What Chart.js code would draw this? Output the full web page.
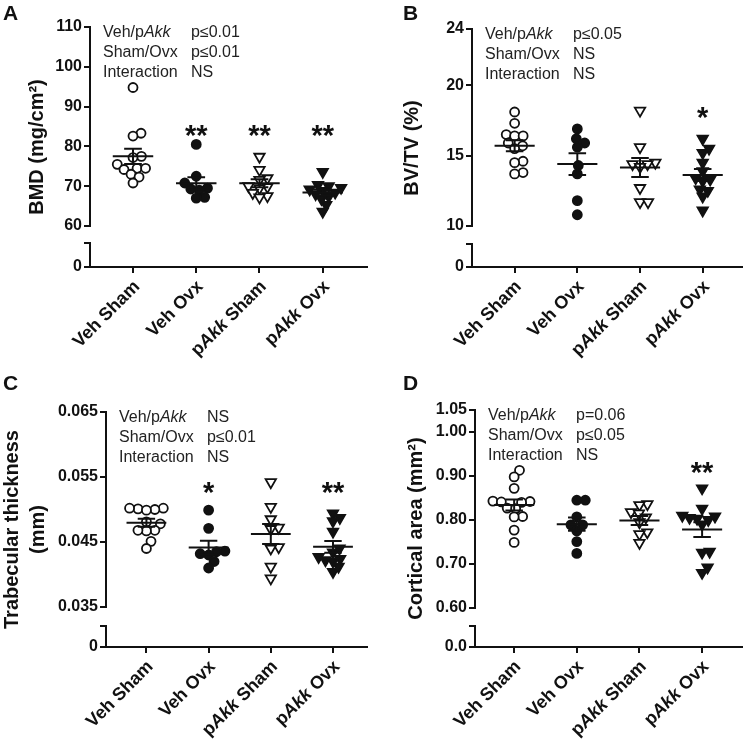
<!DOCTYPE html>
<html>
<head>
<meta charset="utf-8">
<script src="https://cdn.jsdelivr.net/npm/chart.js@4.4.0/dist/chart.umd.min.js"></script>
<style>
  body { margin: 0; background: #fff; }
  #wrap { position: relative; width: 750px; height: 745px; background: #fff; }
  canvas { position: absolute; }
</style>
</head>
<body>
<div id="wrap">
  <canvas id="chartA" width="375" height="370" style="left:0;top:0"></canvas>
  <canvas id="chartB" width="375" height="370" style="left:375px;top:0"></canvas>
  <canvas id="chartC" width="375" height="375" style="left:0;top:370px"></canvas>
  <canvas id="chartD" width="375" height="375" style="left:375px;top:370px"></canvas>
</div>
<script>
const FAMILY = '"Liberation Sans", Arial, Helvetica, sans-serif';
const INK = '#111';

const categories = ['Veh Sham', 'Veh Ovx', 'pAkk Sham', 'pAkk Ovx'];
const rowNames = ['Veh/pAkk', 'Sham/Ovx', 'Interaction'];

// A - BMD
const bmdVehSham = [94.8, 83.3, 82.6, 77.5, 77.2, 75.5, 74.5, 74.5, 74.2, 73.0, 72.3, 70.8];
const bmdVehOvx  = [80.5, 72.5, 70.8, 69.5, 69.3, 69.0, 67.2, 67.0];
const bmdAkkSham = [77.4, 74.1, 72.0, 71.6, 70.0, 69.8, 69.5, 68.3, 67.5, 67.2];
const bmdAkkOvx  = [73.6, 70.3, 70.0, 69.6, 69.2, 68.8, 68.4, 68.0, 67.4, 66.8, 65.3, 63.6];
const bmdTicks = [60, 70, 80, 90, 100, 110];
const bmdStats = ['p≤0.01', 'p≤0.01', 'NS'];
const bmdStars = ['', '**', '**', '**'];
const bmdStarAt = 84;

// B - BV/TV
const bvVehSham = [18.1, 17.3, 16.5, 16.4, 16.4, 15.9, 15.7, 15.5, 14.6, 14.5, 13.8, 13.7];
const bvVehOvx  = [16.9, 16.2, 15.9, 15.6, 14.3, 13.7, 11.8, 10.8];
const bvAkkSham = [18.2, 15.6, 14.5, 14.4, 14.4, 14.2, 12.7, 11.7, 11.7];
const bvAkkOvx  = [16.2, 15.5, 15.2, 14.5, 13.9, 13.4, 13.3, 13.2, 12.6, 12.5, 12.1, 11.1];
const bvTicks = [10, 15, 20, 24];
const bvStats = ['p≤0.05', 'NS', 'NS'];
const bvStars = ['', '', '', '*'];
const bvStarAt = 18.1;

// C - trabecular thickness
const tbVehSham = [0.0502, 0.0501, 0.0500, 0.0502, 0.0499, 0.0481, 0.0478, 0.0468, 0.0467, 0.0468, 0.0451, 0.0440];
const tbVehOvx  = [0.0499, 0.0471, 0.0436, 0.0435, 0.0432, 0.0430, 0.0420, 0.0410];
const tbAkkSham = [0.0542, 0.0504, 0.0485, 0.0472, 0.0470, 0.0442, 0.0440, 0.0412, 0.0394];
const tbAkkOvx  = [0.0494, 0.0487, 0.0482, 0.0466, 0.0440, 0.0434, 0.0427, 0.0424, 0.0422, 0.0420, 0.0412, 0.0404];
const tbTicks = [0.035, 0.045, 0.055, 0.065];
const tbStats = ['NS', 'p≤0.01', 'NS'];
const tbStars = ['', '*', '', '**'];
const tbStarAt = 0.0535;

// D - cortical area
const caVehSham = [0.913, 0.898, 0.872, 0.843, 0.842, 0.841, 0.840, 0.827, 0.826, 0.808, 0.807, 0.777, 0.749];
const caVehOvx  = [0.845, 0.845, 0.807, 0.789, 0.789, 0.775, 0.751, 0.724];
const caAkkSham = [0.836, 0.834, 0.818, 0.815, 0.806, 0.795, 0.772, 0.768, 0.748];
const caAkkOvx  = [0.872, 0.826, 0.810, 0.808, 0.805, 0.803, 0.800, 0.790, 0.728, 0.726, 0.692, 0.680];
const caTicks = [0.60, 0.70, 0.80, 0.90, 1.00, 1.05];
const caStats = ['p=0.06', 'p≤0.05', 'NS'];
const caStars = ['', '', '', '**'];
const caStarAt = 0.921;

const panels = [
  { id: 'chartA', letter: 'A', letterX: 3, h: 370, area: {l: 90, t: 27, r: 367, b: 267}, seg: [199, 17, 24],
    xMin: 0.32, xMax: 4.70, groups: [bmdVehSham, bmdVehOvx, bmdAkkSham, bmdAkkOvx], ticks: bmdTicks, dec: 0,
    low: '0', title: ['BMD (mg/cm²)'], titleX: [37], stats: bmdStats, stars: bmdStars, starAt: bmdStarAt },
  { id: 'chartB', letter: 'B', letterX: 28, h: 370, area: {l: 97, t: 29, r: 370, b: 267}, seg: [197, 18, 23],
    xMin: 0.32, xMax: 4.63, groups: [bvVehSham, bvVehOvx, bvAkkSham, bvAkkOvx], ticks: bvTicks, dec: 0,
    low: '0', title: ['BV/TV (%)'], titleX: [37], stats: bvStats, stars: bvStars, starAt: bvStarAt },
  { id: 'chartC', letter: 'C', letterX: 3, h: 375, area: {l: 106, t: 42, r: 372, b: 277}, seg: [195, 19, 21],
    xMin: 0.35, xMax: 4.55, groups: [tbVehSham, tbVehOvx, tbAkkSham, tbAkkOvx], ticks: tbTicks, dec: 3,
    low: '0', title: ['Trabecular thickness', '(mm)'], titleX: [12, 38], stats: tbStats, stars: tbStars, starAt: tbStarAt },
  { id: 'chartD', letter: 'D', letterX: 28, h: 375, area: {l: 100, t: 40, r: 373, b: 277}, seg: [198, 18, 21],
    xMin: 0.375, xMax: 4.64, groups: [caVehSham, caVehOvx, caAkkSham, caAkkOvx], ticks: caTicks, dec: 2,
    low: '0.0', title: ['Cortical area (mm²)'], titleX: [41], stats: caStats, stars: caStars, starAt: caStarAt }
];

const markers = [
  { pointStyle: 'circle', radius: 4.5, rotation: 0, fill: '#fff', gap: 8.5 },
  { pointStyle: 'circle', radius: 4.5, rotation: 0, fill: INK, gap: 8.5 },
  { pointStyle: 'triangle', radius: 6, rotation: 180, fill: '#fff', gap: 8 },
  { pointStyle: 'triangle', radius: 6, rotation: 180, fill: INK, gap: 7.6 }
];

function meanSem(vals) {
  const n = vals.length;
  const m = vals.reduce((a, b) => a + b, 0) / n;
  const sd = Math.sqrt(vals.reduce((a, b) => a + (b - m) * (b - m), 0) / (n - 1));
  return [m, sd / Math.sqrt(n)];
}

// mean line + SEM whiskers, segments split by null gaps
function barData(g, vals) {
  const [m, se] = meanSem(vals);
  const x = g + 1;
  return [
    {x: x - 0.32, y: m}, {x: x + 0.32, y: m}, {x: x + 0.32, y: null},
    {x: x - 0.14, y: m + se}, {x: x + 0.14, y: m + se}, {x: x + 0.14, y: null},
    {x: x - 0.14, y: m - se}, {x: x + 0.14, y: m - se}, {x: x + 0.14, y: null},
    {x: x, y: m - se}, {x: x, y: m + se}
  ];
}

// simple beeswarm in pixel space
function swarmOffsets(chart, vals, d) {
  const xs = chart.scales.x, ys = chart.scales.y;
  const pxPerX = xs.getPixelForValue(1) - xs.getPixelForValue(0);
  const placed = [];
  const offs = new Array(vals.length);
  const order = vals.map((v, i) => i).sort((a, b) => vals[a] - vals[b]);
  for (const i of order) {
    const py = ys.getPixelForValue(vals[i]);
    const cands = [0];
    placed.forEach(p => {
      const dy = Math.abs(p.y - py);
      if (dy < d) {
        const dx = Math.sqrt(d * d - dy * dy);
        cands.push(p.x + dx, p.x - dx);
      }
    });
    cands.sort((a, b) => Math.abs(a) - Math.abs(b));
    const x = cands.find(c => placed.every(p => Math.hypot(p.x - c, p.y - py) >= d - 0.01));
    placed.push({x: x, y: py});
    offs[i] = x / pxPerX;
  }
  return offs;
}

function drawRich(ctx, s, x, y, size, bold, align) {
  const parts = s.split(/(Akk)/).filter(Boolean).map(t => ({t: t, it: t === 'Akk'}));
  const font = it => (it ? 'italic ' : '') + (bold ? 'bold ' : '') + size + 'px ' + FAMILY;
  let w = 0;
  parts.forEach(q => { ctx.font = font(q.it); q.w = ctx.measureText(q.t).width; w += q.w; });
  let cx = align === 'right' ? x - w : x;
  ctx.textAlign = 'left';
  parts.forEach(q => { ctx.font = font(q.it); ctx.fillText(q.t, cx, y); cx += q.w; });
}

function textPlugin(p) {
  return {
    id: 'panelText',
    afterDraw(chart) {
      const ctx = chart.ctx, a = chart.chartArea, xs = chart.scales.x, ys = chart.scales.y;
      ctx.save();
      ctx.fillStyle = INK;

      ctx.font = 'bold 21px ' + FAMILY;
      ctx.textAlign = 'left';
      ctx.textBaseline = 'alphabetic';
      ctx.fillText(p.letter, p.letterX, 20);

      // y title centred on the whole broken axis
      ctx.font = 'bold 20px ' + FAMILY;
      ctx.textAlign = 'center';
      ctx.textBaseline = 'middle';
      p.title.forEach((t, i) => {
        ctx.save();
        ctx.translate(p.titleX[i], (a.top + a.bottom) / 2);
        ctx.rotate(-Math.PI / 2);
        ctx.fillText(t, 0, 0);
        ctx.restore();
      });

      // two-way ANOVA block
      ctx.fillStyle = '#222';
      ctx.textBaseline = 'middle';
      rowNames.forEach((name, i) => {
        const y = a.top + 6 + i * 20;
        drawRich(ctx, name, a.left + 13, y, 16, false, 'left');
        drawRich(ctx, p.stats[i], a.left + 101, y, 16, false, 'left');
      });

      // significance stars
      ctx.fillStyle = INK;
      ctx.font = 'bold 29px ' + FAMILY;
      ctx.textAlign = 'center';
      ctx.textBaseline = 'alphabetic';
      p.stars.forEach((s, g) => {
        if (s) ctx.fillText(s, xs.getPixelForValue(g + 1), ys.getPixelForValue(p.starAt) + 15);
      });

      // rotated category labels
      ctx.textBaseline = 'middle';
      categories.forEach((c, g) => {
        ctx.save();
        ctx.translate(xs.getPixelForValue(g + 1) + 4, a.bottom + 17);
        ctx.rotate(-Math.PI / 4);
        drawRich(ctx, c, 0, 0, 18, true, 'right');
        ctx.restore();
      });
      ctx.restore();
    }
  };
}

Chart.defaults.font.family = FAMILY;
Chart.defaults.color = INK;

panels.forEach(p => {
  const tickGrid = {drawOnChartArea: false, drawTicks: true, tickLength: 6, color: INK, lineWidth: 2};
  const border = {display: true, color: INK, width: 2};
  const fixWidth = s => { s.width = p.area.l; };
  const tickFont = {size: 16, weight: 'bold'};

  const datasets = p.groups.map((vals, g) => ({
    data: vals.map(v => ({x: g + 1, y: v})),
    xAxisID: 'x', yAxisID: 'y',
    pointStyle: markers[g].pointStyle,
    pointRadius: markers[g].radius,
    rotation: markers[g].rotation,
    backgroundColor: markers[g].fill,
    borderColor: INK,
    borderWidth: 1.8,
    order: 1
  }));
  p.groups.forEach((vals, g) => {
    datasets.push({
      data: barData(g, vals),
      xAxisID: 'x', yAxisID: 'y',
      showLine: true, pointRadius: 0, borderColor: INK, borderWidth: 2,
      spanGaps: false, order: 0
    });
  });

  const chart = new Chart(document.getElementById(p.id), {
    type: 'scatter',
    data: {datasets: datasets},
    options: {
      responsive: false,
      animation: false,
      events: [],
      layout: {padding: {left: 0, top: p.area.t, right: 375 - p.area.r, bottom: 0}},
      plugins: {legend: {display: false}, tooltip: {enabled: false}},
      scales: {
        x: {
          type: 'linear', min: p.xMin, max: p.xMax,
          afterBuildTicks: s => { s.ticks = categories.map((c, i) => ({value: i + 1})); },
          afterFit: s => { s.height = p.h - p.area.b; },
          grid: tickGrid, border: border,
          ticks: {display: false}
        },
        y: {
          type: 'linear', position: 'left', stack: 'v', stackWeight: p.seg[0], weight: 3,
          min: p.ticks[0], max: p.ticks[p.ticks.length - 1],
          afterBuildTicks: s => { s.ticks = p.ticks.map(v => ({value: v})); },
          afterFit: fixWidth,
          grid: tickGrid, border: border,
          ticks: {autoSkip: false, padding: 2, color: INK, font: tickFont,
                  callback: v => v.toFixed(p.dec)}
        },
        yGap: {
          type: 'linear', position: 'left', stack: 'v', stackWeight: p.seg[1], weight: 2,
          min: 0, max: 1, afterFit: fixWidth,
          grid: {display: false}, border: {display: false}, ticks: {display: false}
        },
        yLow: {
          type: 'linear', position: 'left', stack: 'v', stackWeight: p.seg[2], weight: 1,
          min: 0, max: 1,
          afterBuildTicks: s => { s.ticks = [{value: 0}, {value: 1}]; },
          afterFit: fixWidth,
          grid: tickGrid, border: border,
          ticks: {autoSkip: false, padding: 2, color: INK, font: tickFont,
                  callback: v => (v === 0 ? p.low : '')}
        }
      }
    },
    plugins: [textPlugin(p)]
  });

  p.groups.forEach((vals, g) => {
    const offs = swarmOffsets(chart, vals, markers[g].gap);
    chart.data.datasets[g].data = vals.map((v, i) => ({x: g + 1 + offs[i], y: v}));
  });
  chart.update('none');
});
</script>
</body>
</html>
